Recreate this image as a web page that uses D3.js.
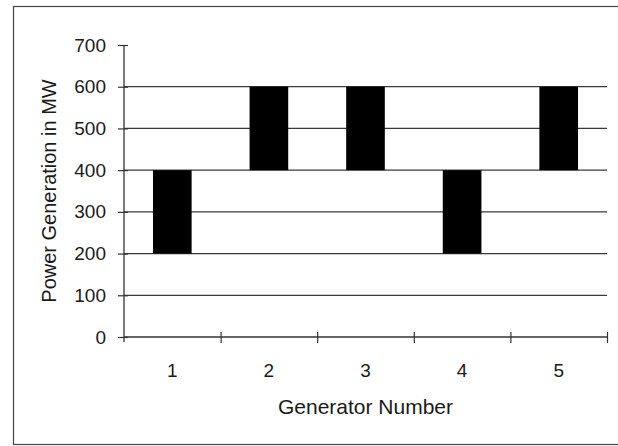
<!DOCTYPE html>
<html>
<head>
<meta charset="utf-8">
<script src="https://cdn.jsdelivr.net/npm/d3@7"></script>
<style>
  body { margin: 0; background: #fff; overflow: hidden; }
  svg { display: block; }
  text { font-family: "Liberation Sans", Arial, sans-serif; fill: #1a1a1a; }
</style>
</head>
<body>
<script>
// generator output ranges (floating bars)
var generators = ["1", "2", "3", "4", "5"];
var minMW      = [200, 400, 400, 200, 400];
var maxMW      = [400, 600, 600, 400, 600];
var yTicks     = [0, 100, 200, 300, 400, 500, 600, 700];
var gridValues = [100, 200, 300, 400, 500, 600];

var width = 618, height = 446;
var plot = {left: 124, right: 607, top: 45, bottom: 337};

var svg = d3.select("body").append("svg")
    .attr("width", width)
    .attr("height", height);

// outer chart frame (right side runs off the page)
svg.append("rect")
    .attr("x", 13.5).attr("y", 6.5)
    .attr("width", 640).attr("height", 438)
    .attr("fill", "none").attr("stroke", "#444").attr("stroke-width", 1.2);

var x = d3.scaleBand().domain(generators)
    .range([plot.left, plot.right])
    .paddingInner(0.6).paddingOuter(0.3);

var y = d3.scaleLinear().domain([0, 700]).range([plot.bottom, plot.top]);

// category boundaries for x tick marks
var xb = d3.scaleLinear().domain([0, generators.length]).range([plot.left, plot.right]);

// horizontal gridlines
svg.append("g").selectAll("line").data(gridValues)
  .enter().append("line")
    .attr("x1", plot.left).attr("x2", plot.right)
    .attr("y1", function(d){ return y(d); })
    .attr("y2", function(d){ return y(d); })
    .attr("stroke", "#3a3a3a").attr("stroke-width", 1.3);

// bars
var rows = generators.map(function(g, i){ return {g: g, lo: minMW[i], hi: maxMW[i]}; });
svg.append("g").selectAll("rect").data(rows)
  .enter().append("rect")
    .attr("x", function(d){ return x(d.g); })
    .attr("width", x.bandwidth())
    .attr("y", function(d){ return y(d.hi); })
    .attr("height", function(d){ return y(d.lo) - y(d.hi); })
    .attr("fill", "#000");

// y axis
var yAxis = svg.append("g")
    .attr("transform", "translate(" + plot.left + ",0)")
    .call(d3.axisLeft(y).tickValues(yTicks).tickSize(6).tickPadding(12));
yAxis.select(".domain").attr("stroke", "#333").attr("stroke-width", 1.3)
    .attr("d", "M0," + y(700) + "V" + (y(0) + 5));
yAxis.selectAll(".tick line").attr("x2", -6).attr("x1", 4).attr("stroke", "#333").attr("stroke-width", 1.2);
yAxis.selectAll(".tick text").style("font-size", "19px")
    .style("font-family", "'Liberation Sans', Arial, sans-serif").attr("fill", "#1a1a1a");

// x axis line with ticks at category boundaries
var xAxis = svg.append("g")
    .attr("transform", "translate(0," + plot.bottom + ")")
    .call(d3.axisBottom(xb).tickValues(d3.range(1, generators.length + 1)).tickSize(5).tickFormat(""));
xAxis.select(".domain").attr("stroke", "#333").attr("stroke-width", 1.3)
    .attr("d", "M" + plot.left + ",0H" + plot.right);
xAxis.selectAll(".tick line").attr("y1", -5).attr("y2", 6).attr("stroke", "#333").attr("stroke-width", 1.2);

// x category labels
svg.append("g").selectAll("text").data(generators)
  .enter().append("text")
    .attr("x", function(d){ return x(d) + x.bandwidth() / 2; })
    .attr("y", 377)
    .attr("text-anchor", "middle")
    .style("font-size", "19px")
    .text(function(d){ return d; });

// axis titles
svg.append("text")
    .attr("x", (plot.left + plot.right) / 2).attr("y", 414)
    .attr("text-anchor", "middle")
    .style("font-size", "21px")
    .text("Generator Number");

svg.append("text")
    .attr("transform", "translate(56," + ((plot.top + plot.bottom) / 2) + ") rotate(-90)")
    .attr("text-anchor", "middle")
    .style("font-size", "20px")
    .text("Power Generation in MW");
</script>
</body>
</html>
